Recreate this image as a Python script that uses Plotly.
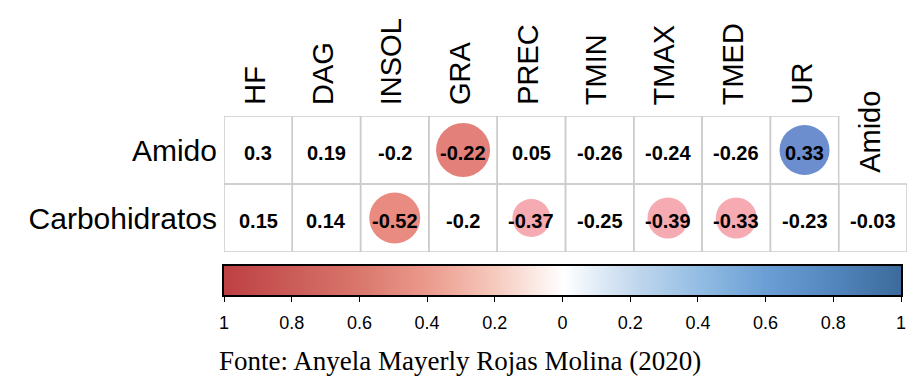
import plotly.graph_objects as go

# ---- data ----
cols = ["HF", "DAG", "INSOL", "GRA", "PREC", "TMIN", "TMAX", "TMED", "UR", "Amido"]
rows = ["Amido", "Carbohidratos"]
amido_vals = [0.3, 0.19, -0.2, -0.22, 0.05, -0.26, -0.24, -0.26, 0.33]
carb_vals = [0.15, 0.14, -0.52, -0.2, -0.37, -0.25, -0.39, -0.33, -0.23, -0.03]

# highlighted cells (drawn with a circle)
circ_rows = ["Amido", "Amido", "Carbohidratos", "Carbohidratos", "Carbohidratos", "Carbohidratos"]
circ_cols = ["GRA", "UR", "INSOL", "PREC", "TMAX", "TMED"]
circ_colors = ["#E4807A", "#6C8ECF", "#E98B81", "#F6AAB1", "#F6AAB1", "#F6AAB1"]
circ_diam = [54, 50, 51, 38, 41, 41]

# colour legend
cbar_vals = [-1, -0.8, -0.6, -0.4, -0.2, 0, 0.2, 0.4, 0.6, 0.8, 1]
cbar_text = ["1", "0.8", "0.6", "0.4", "0.2", "0", "0.2", "0.4", "0.6", "0.8", "1"]

caption = "Fonte: Anyela Mayerly Rojas Molina (2020)"

colorscale = [
    [0.0, "#BD4043"], [0.1, "#CB5C58"], [0.2, "#D9776C"], [0.3, "#EB9A8C"],
    [0.4, "#F6CABE"], [0.5, "#FFFFFF"], [0.6, "#C5DAEE"], [0.7, "#93BDE3"],
    [0.8, "#6A9ED4"], [0.9, "#5286BD"], [1.0, "#3C6A9B"],
]

W, H = 907, 376
ML, MT = 224, 116
GRID_BOTTOM = 252
BAR_TOP, BAR_BOTTOM, BAR_RIGHT = 266, 295, 901
MB = H - BAR_BOTTOM
plot_h = H - MT - MB
plot_w = W - ML


def py(pix):  # pixel y -> paper y
    return (H - MB - pix) / plot_h


def px(pix):
    return (pix - ML) / plot_w


font_sans = "Liberation Sans, Arial, Helvetica, sans-serif"

fig = go.Figure()

# grid cells
shapes = []
for r_i, (rname, vals) in enumerate(zip(rows, [amido_vals, carb_vals])):
    for c_i in range(len(vals)):
        shapes.append(dict(type="rect", xref="x", yref="y",
                           x0=c_i - 0.5, x1=c_i + 0.5, y0=r_i - 0.5, y1=r_i + 0.5,
                           line=dict(color="#CCCCCC", width=1.5), fillcolor="rgba(0,0,0,0)",
                           layer="below"))

# circles
fig.add_trace(go.Scatter(
    x=circ_cols, y=circ_rows, mode="markers",
    marker=dict(size=circ_diam, color=circ_colors, line=dict(width=0), opacity=1),
    hoverinfo="skip", showlegend=False))

# colour legend bar (heatmap on its own axes)
fig.add_trace(go.Heatmap(
    x=cbar_vals, y=[0], z=[cbar_vals], zmin=-1, zmax=1, zsmooth="best",
    colorscale=colorscale, showscale=False, hoverinfo="skip",
    xaxis="x2", yaxis="y2"))

annotations = []
# cell values
for rname, vals in zip(rows, [amido_vals, carb_vals]):
    for c, v in zip(cols, vals):
        annotations.append(dict(x=c, xref="x", y=rname, yref="y", text=str(v),
                                showarrow=False, xanchor="center", yanchor="middle",
                                yshift=-3,
                                font=dict(family=font_sans, size=20, color="black",
                                          weight="bold")))
# column labels
for c in cols[:-1]:
    annotations.append(dict(x=c, xref="x", y=py(106), yref="paper", text=c,
                            textangle=-90, showarrow=False, xanchor="center", yanchor="bottom",
                            borderpad=0, xshift=-3,
                            font=dict(family=font_sans, size=29, color="black")))
# diagonal label
annotations.append(dict(x=cols[-1], xref="x", y=py(174), yref="paper", text=cols[-1],
                        textangle=-90, showarrow=False, xanchor="center", yanchor="bottom",
                        borderpad=0, xshift=-3,
                        font=dict(family=font_sans, size=29, color="black")))
# caption
annotations.append(dict(x=px(460), xref="paper", y=py(361), yref="paper", text=caption,
                        showarrow=False, xanchor="center", yanchor="middle",
                        font=dict(family="Liberation Serif, Times New Roman, serif", size=27,
                                  color="black")))

fig.update_layout(
    width=W, height=H,
    margin=dict(l=ML, r=0, t=MT, b=MB, autoexpand=False),
    paper_bgcolor="white", plot_bgcolor="white",
    xaxis=dict(type="category", categoryorder="array", categoryarray=cols,
               range=[-0.5, len(cols) - 0.5], showgrid=False, zeroline=False,
               showticklabels=False, ticks="", showline=False, fixedrange=True,
               anchor="y"),
    yaxis=dict(type="category", categoryorder="array", categoryarray=rows,
               domain=[py(GRID_BOTTOM), 1],
               range=[len(rows) - 0.5, -0.5], showgrid=False, zeroline=False,
               showticklabels=True, ticks="", ticklabelstandoff=6, showline=False,
               tickfont=dict(family=font_sans, size=30, color="black"), fixedrange=True),
    xaxis2=dict(domain=[0, px(BAR_RIGHT)], anchor="y2", range=[-1, 1],
                showgrid=False, zeroline=False, showline=True, mirror=True,
                linecolor="black", linewidth=1.5,
                ticks="outside", ticklen=5, tickcolor="black", tickwidth=1.2,
                tickvals=cbar_vals, ticktext=cbar_text, ticklabelstandoff=6,
                ticklabeloverflow="allow",
                tickfont=dict(family=font_sans, size=18, color="black"), fixedrange=True),
    yaxis2=dict(domain=[0, py(BAR_TOP)], anchor="x2", range=[-0.5, 0.5],
                showgrid=False, zeroline=False, showline=True, mirror=True,
                linecolor="black", linewidth=1.5, showticklabels=False, ticks="",
                fixedrange=True),
    shapes=shapes, annotations=annotations,
)

fig.write_html("out.html")
